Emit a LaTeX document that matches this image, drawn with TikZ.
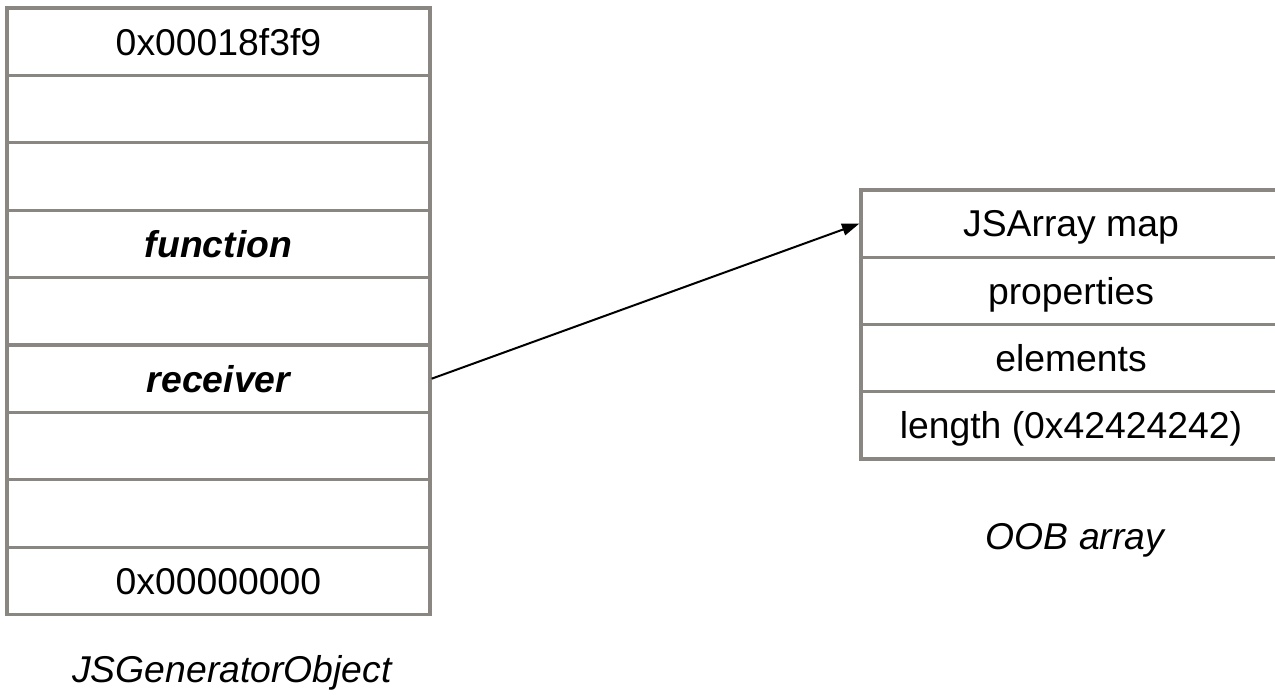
\documentclass[tikz,border=0pt]{standalone}
\usepackage{fontspec}
\setmainfont{Liberation Sans}
\usetikzlibrary{arrows.meta}
\definecolor{cellgray}{RGB}{138,135,130}
\begin{document}
\begin{tikzpicture}[x=0.75pt,y=-0.75pt,
  cellbase/.style={draw=cellgray, line width=2.5pt, inner sep=0pt, anchor=center,
    font=\fontsize{28}{32}\selectfont, text height=20pt, text depth=0pt},
  lcell/.style={cellbase, minimum width=317.25pt, minimum height=50.55pt},
  rcell/.style={cellbase, minimum width=315pt, minimum height=50.4pt},
  caption/.style={font=\fontsize{28}{32}\selectfont\itshape},
  pointer/.style={line width=1.5pt, -{Triangle[length=13pt,width=9pt]}}]
\useasboundingbox (0,0) rectangle (1275,698);
% left table
\node[lcell] (l0) at (218.5,41.7) {0x00018f3f9};
\node[lcell] (l1) at (218.5,109.1) {};
\node[lcell] (l2) at (218.5,176.5) {};
\node[lcell] (l3) at (218.5,243.9) {\bfseries\itshape function};
\node[lcell] (l4) at (218.5,311.3) {};
\node[lcell] (l5) at (218.5,378.7) {\bfseries\itshape receiver};
\node[lcell] (l6) at (218.5,446.1) {};
\node[lcell] (l7) at (218.5,513.5) {};
\node[lcell] (l8) at (218.5,580.9) {0x00000000};
\node[caption] (lcap) at (232,673) {JSGeneratorObject};
% right table
\node[rcell] (r0) at (1071,223.6) {JSArray map};
\node[rcell] (r1) at (1071,290.9) {properties};
\node[rcell] (r2) at (1071,358.1) {elements};
\node[rcell] (r3) at (1071,425.4) {length (0x42424242)};
\node[caption] (rcap) at (1075,540) {OOB array};
% pointer
\draw[pointer] (l5.east) -- (r0.west);
\end{tikzpicture}
\end{document}
